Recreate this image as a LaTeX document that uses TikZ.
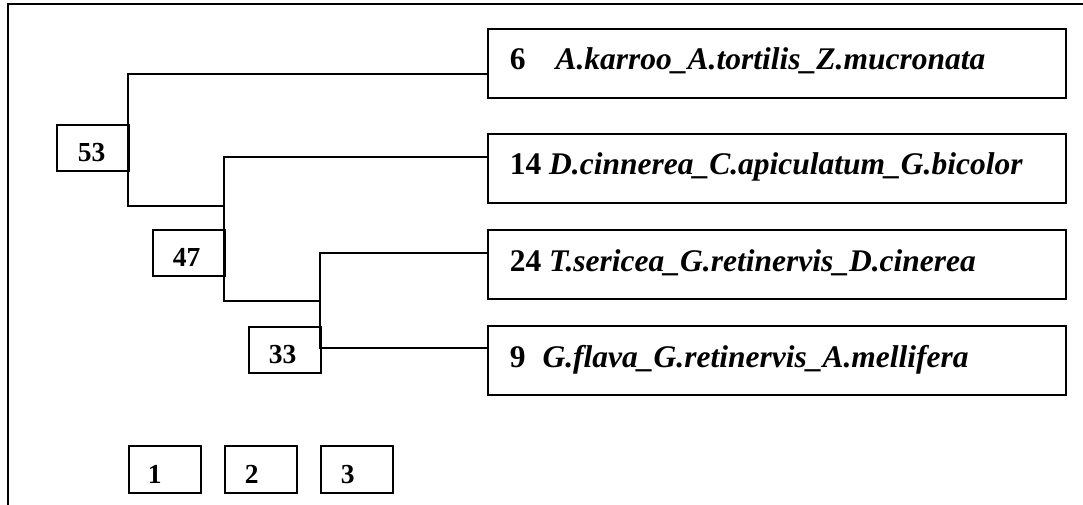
\documentclass[tikz,border=0pt]{standalone}
\usepackage{fontspec}
\setmainfont{Liberation Serif}
\begin{document}
\begin{tikzpicture}[x=1pt,y=-1pt, line width=1.6pt,
  box/.style={draw, rectangle, inner sep=0pt, anchor=north west},
  nbox/.style={box, minimum width=72pt, minimum height=46pt},
  kbox/.style={box, minimum width=72pt, minimum height=47pt},
  lbox/.style={box, minimum width=578pt, minimum height=69pt},
  numtxt/.style={anchor=base west, inner sep=0pt, font=\fontsize{27.5}{30}\selectfont\bfseries},
  labtxt/.style={anchor=base west, inner sep=0pt, font=\fontsize{31.5}{34}\selectfont\bfseries}]
\useasboundingbox (0,0) rectangle (1083,505);
% frame
\coordinate (fr1) at (1083,4);
\coordinate (fr2) at (8,4);
\coordinate (fr3) at (8,505);
\draw (fr1) -- (fr2) -- (fr3);
% label boxes
\node[lbox] (l6) at (487,28) {};
\node[lbox] (l14) at (487,133) {};
\node[lbox] (l24) at (487,229) {};
\node[lbox] (l9) at (487,325) {};
\node[labtxt] (t6) at ([shift={(22pt,-42pt)}]l6.north west) {6\hspace{30pt}\textit{A.karroo\_A.tortilis\_Z.mucronata}};
\node[labtxt] (t14) at ([shift={(22pt,-42pt)}]l14.north west) {14 \textit{D.cinnerea\_C.apiculatum\_G.bicolor}};
\node[labtxt] (t24) at ([shift={(22pt,-42pt)}]l24.north west) {24 \textit{T.sericea\_G.retinervis\_D.cinerea}};
\node[labtxt] (t9) at ([shift={(22pt,-42pt)}]l9.north west) {9\hspace{17pt}\textit{G.flava\_G.retinervis\_A.mellifera}};
% node boxes
\node[nbox] (n53) at (56,124) {};
\node[nbox] (n47) at (152,229) {};
\node[nbox] (n33) at (248,326) {};
\node[numtxt] (t53) at ([shift={(21pt,10pt)}]n53.south west) {53};
\node[numtxt] (t47) at ([shift={(20pt,10pt)}]n47.south west) {47};
\node[numtxt] (t33) at ([shift={(20pt,10pt)}]n33.south west) {33};
% scale boxes
\node[kbox] (k1) at (128,445) {};
\node[kbox] (k2) at (224,445) {};
\node[kbox] (k3) at (320,445) {};
\node[numtxt] (s1) at ([shift={(19pt,10pt)}]k1.south west) {1};
\node[numtxt] (s2) at ([shift={(20pt,10pt)}]k2.south west) {2};
\node[numtxt] (s3) at ([shift={(20pt,10pt)}]k3.south west) {3};
% tree
\coordinate (a1) at (128,74);
\coordinate (a2) at (128,206);
\coordinate (b0) at (224,206);
\coordinate (b1) at (224,157);
\coordinate (b2) at (224,301);
\coordinate (c0) at (320,301);
\coordinate (c1) at (320,253);
\coordinate (c2) at (320,348);
\draw (l6.west |- a1) -- (a1) -- (a2) -- (b0);
\draw (l14.west |- b1) -- (b1) -- (b2) -- (c0);
\draw (l24.west |- c1) -- (c1) -- (c2) -- (l9.west |- c2);
\end{tikzpicture}
\end{document}
